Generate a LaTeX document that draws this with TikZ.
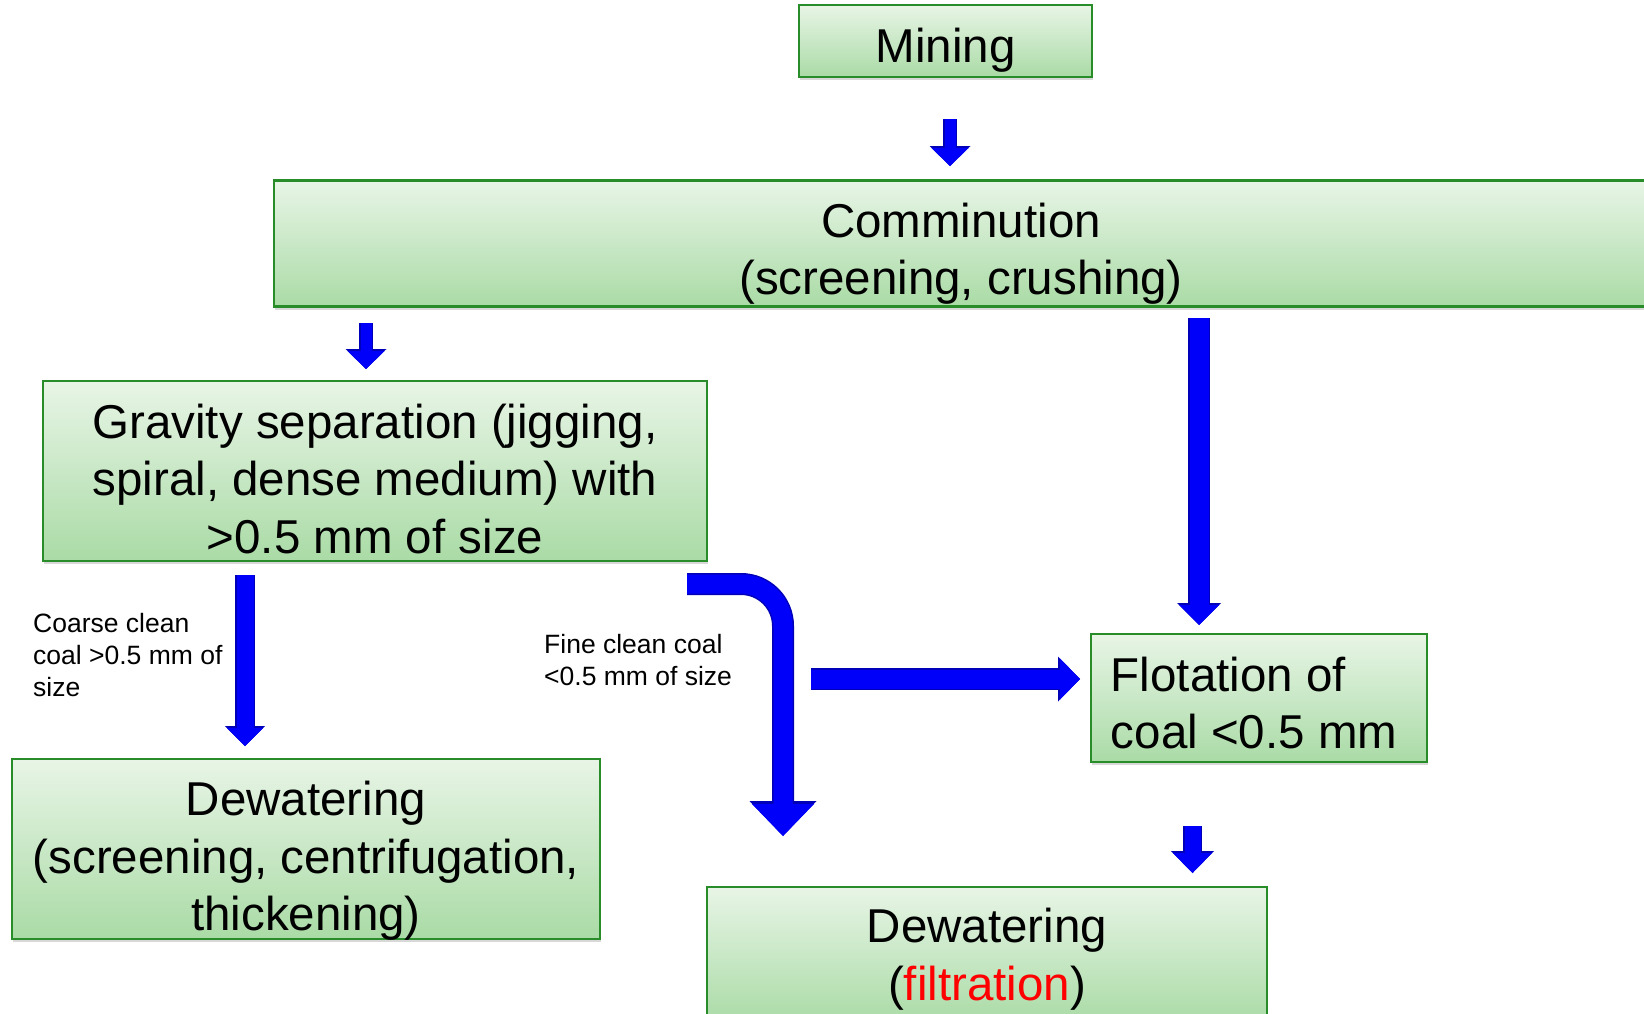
\documentclass[tikz,border=0pt]{standalone}
\usepackage{fontspec}
\setmainfont{Liberation Sans}
\usetikzlibrary{arrows.meta,shadows}

\definecolor{stageedge}{RGB}{40,140,40}
\definecolor{stagetop}{RGB}{232,245,230}
\definecolor{stagebottom}{RGB}{170,219,166}
\definecolor{flowedge}{RGB}{0,0,185}
\definecolor{flowblue}{RGB}{0,0,250}

\newcommand\stagefont{\fontsize{47.5}{57.5}\selectfont}
\newcommand\notefont{\fontsize{26.5}{32}\selectfont}

\tikzset{
  stage/.style={draw=stageedge, line width=2.5pt, top color=stagetop,
    bottom color=stagebottom, inner sep=0pt,
    drop shadow={shadow xshift=1pt, shadow yshift=-3pt, opacity=0.3}},
  stagetext/.style={font=\stagefont, align=center, inner sep=0pt},
  note/.style={font=\notefont, align=left, inner sep=0pt, anchor=north west},
  % outer shaft, head length, head width, then the blue inside
  flow/.style n args={6}{
    preaction={draw=flowedge, line width=#1,
      -{Triangle[length=#2, width=#3, line width=0pt]}},
    draw=flowblue, line width=#4,
    -{Triangle[length=#5, width=#6, line width=0pt]}}
}

\begin{document}
\begin{tikzpicture}[x=1pt, y=-1pt]
  \clip (0,0) rectangle (1644,1013);
  \fill[white] (0,0) rectangle (1644,1013);

  % stages
  \node[stage, minimum width=293pt, minimum height=72pt] (mining) at (945.5,41) {};
  \node[stage, minimum width=1374pt, minimum height=126pt] (comminution) at (961,243.5) {};
  \node[stage, minimum width=664pt, minimum height=180pt] (gravity) at (375,471) {};
  \node[stage, minimum width=336pt, minimum height=128pt] (flotation) at (1259,698) {};
  \node[stage, minimum width=588pt, minimum height=180pt] (dewatercoarse) at (306,849) {};
  \node[stage, minimum width=560pt, minimum height=136pt] (dewaterfine) at (987,955) {};

  \node[stagetext] (miningtext) at ([yshift=-9pt]mining.center) {Mining};
  \node[stagetext] (comminutiontext) at ([yshift=-10pt]comminution.center)
    {Comminution\\(screening, crushing)};
  \node[stagetext] (gravitytext) at ([yshift=-8pt]gravity.center)
    {Gravity separation (jigging,\\spiral, dense medium) with\\>0.5 mm of size};
  \node[stagetext, align=left, anchor=west]
    (flotationtext) at ([xshift=21pt,yshift=-5pt]flotation.west)
    {Flotation of\\coal <0.5 mm};
  \node[stagetext] (dewatercoarsetext) at ([yshift=-12pt]dewatercoarse.center)
    {Dewatering\\(screening, centrifugation,\\thickening)};
  \node[stagetext] (dewaterfinetext) at (987,959)
    {Dewatering\\(\textcolor{red}{filtration})};

  % notes
  \node[note] (coarsenote) at (33,613) {Coarse clean\\coal >0.5 mm of\\size};
  \node[note] (finenote) at (544,634) {Fine clean coal\\<0.5 mm of size};

  % flow arrows
  \coordinate (miningout) at (950,119);
  \coordinate (comminutionin) at (950,166);
  \coordinate (comminutionout) at (366,323);
  \coordinate (gravityin) at (366,369);
  \coordinate (finesout) at (1199,318);
  \coordinate (flotationin) at (1199,625);
  \coordinate (flotationout) at (1192.5,826);
  \coordinate (dewaterfinein) at (1192.5,873);
  \coordinate (coarseout) at (245,575);
  \coordinate (dewatercoarsein) at (245,746);
  \coordinate (fineout) at (687,584);
  \coordinate (fineend) at (783,836);
  \coordinate (sideout) at (811,679);
  \coordinate (sidein) at (1080,679);

  \draw[flow={14pt}{20pt}{41pt}{11pt}{18pt}{37pt}] (miningout) -- (comminutionin);
  \draw[flow={14pt}{20pt}{41pt}{11pt}{18pt}{37pt}] (comminutionout) -- (gravityin);
  \draw[flow={22pt}{22pt}{44pt}{19pt}{20pt}{40pt}] (finesout) -- (flotationin);
  \draw[flow={19pt}{22pt}{43pt}{16pt}{20pt}{39pt}] (flotationout) -- (dewaterfinein);
  \draw[flow={20pt}{20pt}{40pt}{17pt}{18pt}{36pt}] (coarseout) -- (dewatercoarsein);
  \draw[flow={22pt}{35pt}{67pt}{19pt}{32pt}{62pt}, rounded corners=42pt]
    (fineout) -| (fineend);
  \draw[flow={22pt}{22pt}{45pt}{19pt}{20pt}{41pt}] (sideout) -- (sidein);
\end{tikzpicture}
\end{document}
